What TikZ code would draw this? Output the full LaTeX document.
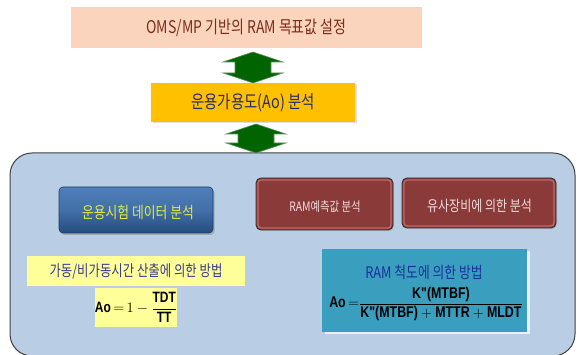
\documentclass[tikz,border=0pt]{standalone}
\usepackage{fontspec}
\setmainfont{Noto Sans CJK KR}[FakeStretch=0.8]
\newfontfamily\narrowb{Liberation Sans Bold}[FakeStretch=0.8]
\usetikzlibrary{shadows,calc}
\definecolor{peach}{HTML}{FAD4BC}
\definecolor{peachtxt}{HTML}{7B2C1C}
\definecolor{gold}{HTML}{FFC000}
\definecolor{navytxt}{HTML}{2A2A70}
\definecolor{arrowgreen}{HTML}{006400}
\definecolor{arrowedge}{HTML}{5E8F5E}
\definecolor{panel}{HTML}{B9CDE5}
\definecolor{paneledge}{HTML}{404040}
\definecolor{btnblueT}{HTML}{4F7FBA}
\definecolor{btnblueB}{HTML}{244C7E}
\definecolor{btnyellow}{HTML}{E2EA44}
\definecolor{btnred}{HTML}{8B3A3A}
\definecolor{btnredge}{HTML}{353535}
\definecolor{btnredhl}{HTML}{C06868}
\definecolor{btnredtxt}{HTML}{F2DCDC}
\definecolor{lightyellow}{HTML}{FFFF99}
\definecolor{ylabtxt}{HTML}{3A3A8C}
\definecolor{teal}{HTML}{3A9FBF}
\definecolor{tealtxt}{HTML}{1A2F9C}
\tikzset{
  flatbox/.style={inner sep=0pt, align=center},
  greenarrow/.style={fill=arrowgreen, draw=arrowedge, line width=0.6pt, line join=miter},
  redbtn/.style={flatbox, fill=btnred, draw=btnredge, line width=0.9pt, rounded corners=5pt,
    text=btnredtxt,
    drop shadow={opacity=0.3, shadow xshift=1pt, shadow yshift=-1pt}},
  redhl/.style={draw=btnredhl, line width=1.3pt, rounded corners=3pt},
}
\newcommand{\blockarrow}[2]{% top tip coordinate, length
  \path[greenarrow] (#1) -- ++(30,10) -- ++(-12,0) -- ++(0,#2-20) -- ++(12,0)
    -- ++(-30,10) -- ++(-30,-10) -- ++(12,0) -- ++(0,-#2+20) -- ++(-12,0) -- cycle;}
\begin{document}
\begin{tikzpicture}[x=1pt,y=-1pt]
\useasboundingbox (0,0) rectangle (581,355);
\fill[white] (0,0) rectangle (581,355);

% top box
\node[flatbox, fill=peach, minimum width=351pt, minimum height=41pt,
  text=peachtxt, font=\fontsize{17.5}{19}\selectfont] (top) at (246.5,27.5)
  {OMS/MP 기반의 RAM 목표값 설정};

% Ao box
\node[flatbox, fill=gold, minimum width=204pt, minimum height=39pt,
  text=navytxt, font=\fontsize{18}{20}\selectfont,
  drop shadow={opacity=0.25, shadow xshift=1.5pt, shadow yshift=-1.5pt}] (ao) at (253,102.5)
  {운용가용도(Ao) 분석};

% big panel
\draw[fill=panel, draw=paneledge, line width=1pt, rounded corners=22pt] (10,153) rectangle (575,356);

% arrows
\coordinate (a1) at (253,52);
\blockarrow{a1}{31}
\coordinate (a2) at (256,124);
\blockarrow{a2}{29}

% buttons
\node[flatbox, rounded corners=4pt, minimum width=154pt, minimum height=46pt,
  top color=btnblueT, bottom color=btnblueB, middle color=btnblueT!70!btnblueB, draw=btnblueB!80!black, line width=0.6pt,
  drop shadow={opacity=0.45, shadow xshift=1.5pt, shadow yshift=-2pt}] (ops) at (136,210) {};
\node[flatbox, text=btnyellow, font=\fontsize{16}{18}\selectfont] (opst) at (138,212) {운용시험 데이터 분석};

\node[redbtn, minimum width=137pt, minimum height=52pt] (ramp) at (324.5,204) {};
\draw[redhl] ($(ramp.south west)+(2.5,-2.5)$) rectangle ($(ramp.north east)+(-2.5,2.5)$);
\node[flatbox, text=btnredtxt, font=\fontsize{13}{15}\selectfont] (rampt) at (325,207) {RAM예측값 분석};

\node[redbtn, minimum width=154pt, minimum height=50pt] (sim) at (479,203) {};
\draw[redhl] ($(sim.south west)+(2.5,-2.5)$) rectangle ($(sim.north east)+(-2.5,2.5)$);
\node[flatbox, text=btnredtxt, font=\fontsize{15}{17}\selectfont] (simt) at (479.5,206) {유사장비에 의한 분석};

% left method
\node[flatbox, fill=lightyellow, minimum width=218pt, minimum height=30pt,
  text=ylabtxt, font=\fontsize{15.5}{17}\selectfont] (ylab) at (136,271)
  {가동/비가동시간 산출에 의한 방법};
\node[flatbox, fill=lightyellow, minimum width=80pt, minimum height=39pt,
  font=\fontsize{15}{17}\selectfont] (yform) at (136,307.5)
  {{\narrowb Ao}$\displaystyle\,{=}\,1-\frac{\hbox{\narrowb TDT}}{\hbox{\narrowb TT}}$};

% right method
\node[flatbox, fill=teal, minimum width=205pt, minimum height=83pt,
  drop shadow={color=white, opacity=0.7, shadow xshift=2.5pt, shadow yshift=-2.5pt}] (teal) at (424.5,290.5) {};
\node[flatbox, text=tealtxt, font=\fontsize{16}{18}\selectfont] (ttitle) at (424,272) {RAM 척도에 의한 방법};
\node[flatbox, font=\fontsize{15.5}{17}\selectfont] (tform) at (426,304)
  {{\narrowb Ao}$\displaystyle\,{=}\frac{\hbox{\narrowb K"(MTBF)}}{\hbox{\narrowb K"(MTBF)}+\hbox{\narrowb MTTR}+\hbox{\narrowb MLDT}}$};
\end{tikzpicture}
\end{document}
